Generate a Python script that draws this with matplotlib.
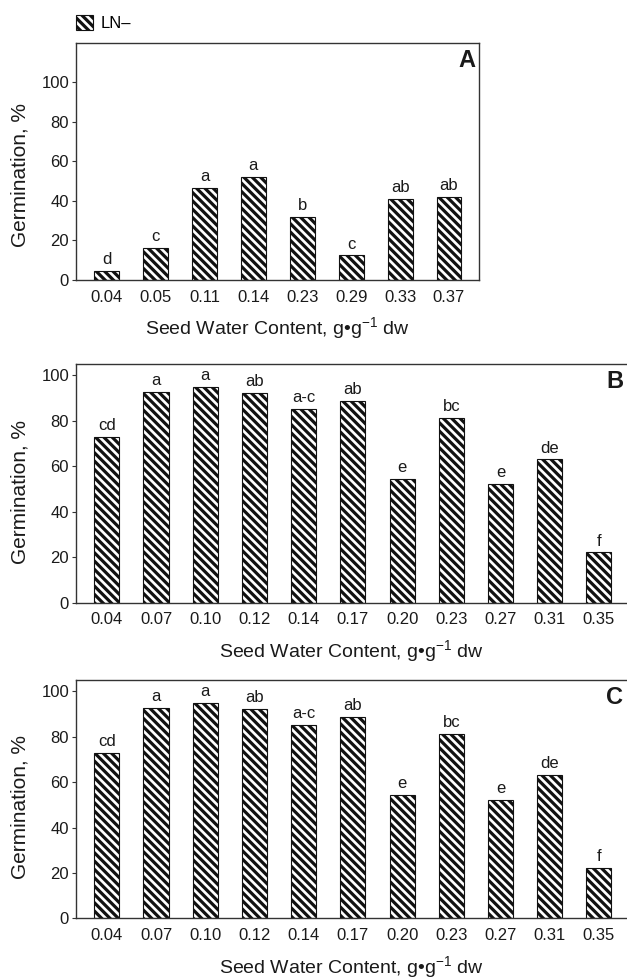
import matplotlib
matplotlib.use("Agg")
import matplotlib.pyplot as plt
from matplotlib.patches import Patch
import numpy as np

plt.rcParams['font.family'] = ['Liberation Sans', 'DejaVu Sans']
plt.rcParams['mathtext.fontset'] = 'custom'
plt.rcParams['mathtext.rm'] = 'Liberation Sans'
plt.rcParams['hatch.linewidth'] = 2.3

# ---- data ----
cats_a = ["0.04", "0.05", "0.11", "0.14", "0.23", "0.29", "0.33", "0.37"]
vals_a = [4.5, 16.0, 46.6, 51.9, 31.9, 12.4, 41.0, 42.0]
lets_a = ["d", "c", "a", "a", "b", "c", "ab", "ab"]

cats_b = ["0.04", "0.07", "0.10", "0.12", "0.14", "0.17", "0.20", "0.23", "0.27", "0.31", "0.35"]
vals_b = [72.9, 92.7, 94.9, 92.4, 85.2, 88.7, 54.3, 81.3, 52.3, 63.0, 22.1]
lets_b = ["cd", "a", "a", "ab", "a-c", "ab", "e", "bc", "e", "de", "f"]

cats_c = ["0.04", "0.07", "0.10", "0.12", "0.14", "0.17", "0.20", "0.23", "0.27", "0.31", "0.35"]
vals_c = [72.9, 92.7, 94.9, 92.4, 85.2, 88.7, 54.3, 81.3, 52.3, 63.0, 22.1]
lets_c = ["cd", "a", "a", "ab", "a-c", "ab", "e", "bc", "e", "de", "f"]

legend_label = "LN\u2013"
xlabel = "Seed Water Content, g\u2022g$^{\\mathregular{-1}}$ dw"
ylabel = "Germination, %"

W, H = 627, 980
fig = plt.figure(figsize=(W / 100, H / 100), dpi=100)

TXT = "#1a1a1a"
SP = "#333333"
HATCH = "\\" * 4

def px_rect(l, t, r, b):
    return [l / W, 1 - b / H, (r - l) / W, (b - t) / H]

def panel(rect, cats, vals, lets, ylim_top, xl, xr, letter, right_spine=True,
          ylab_y=0.465):
    ax = fig.add_axes(rect)
    x = np.arange(len(cats))
    ax.bar(x, vals, width=0.51, color="white", edgecolor="#111111",
           linewidth=0.8, hatch=HATCH, zorder=2)
    for xi, v, t in zip(x, vals, lets):
        ax.annotate(t, (xi, v), xytext=(0, 5), textcoords="offset points",
                    ha="center", va="baseline", fontsize=12, color=TXT)
    ax.set_xlim(xl, xr)
    ax.set_ylim(0, ylim_top)
    ax.set_yticks([0, 20, 40, 60, 80, 100])
    ax.set_xticks(x)
    ax.set_xticklabels(cats)
    ax.tick_params(axis="x", length=0, pad=7, labelsize=12, labelcolor=TXT)
    ax.tick_params(axis="y", length=3, pad=2, labelsize=12, labelcolor=TXT,
                   color=SP, width=0.8)
    for s in ax.spines.values():
        s.set_color(SP)
        s.set_linewidth(1.0)
    if not right_spine:
        ax.spines["right"].set_visible(False)
    ax.set_xlabel(xlabel, fontsize=14, color=TXT, labelpad=8)
    ax.set_ylabel(ylabel, fontsize=15, color=TXT)
    wpx = rect[2] * W
    ax.yaxis.set_label_coords(-46 / wpx, ylab_y)
    hpx = rect[3] * H
    ax.text(1 - 4 / wpx, 1 - 6 / hpx, letter, transform=ax.transAxes,
            ha="right", va="top", fontsize=17, fontweight="bold", color=TXT)
    return ax

axA = panel(px_rect(76, 42.7, 479.3, 280), cats_a, vals_a, lets_a, 120,
            -0.628, 7.62, "A", True, ylab_y=0.4425)
axB = panel(px_rect(76, 364, 627, 602.7), cats_b, vals_b, lets_b, 105,
            -0.626, 10.57, "B", False)
axC = panel(px_rect(76, 680, 627, 918.3), cats_c, vals_c, lets_c, 105,
            -0.626, 10.57, "C", False)

handle = Patch(facecolor="white", edgecolor="#111111", hatch=HATCH, linewidth=0.8)
fig.legend([handle], [legend_label], loc="center left",
           bbox_to_anchor=(76 / W, 1 - 23 / H), frameon=False,
           handlelength=1.0, handleheight=1.0, handletextpad=0.5,
           fontsize=12, borderaxespad=0, borderpad=0)

fig.savefig("out.png", dpi=100)
